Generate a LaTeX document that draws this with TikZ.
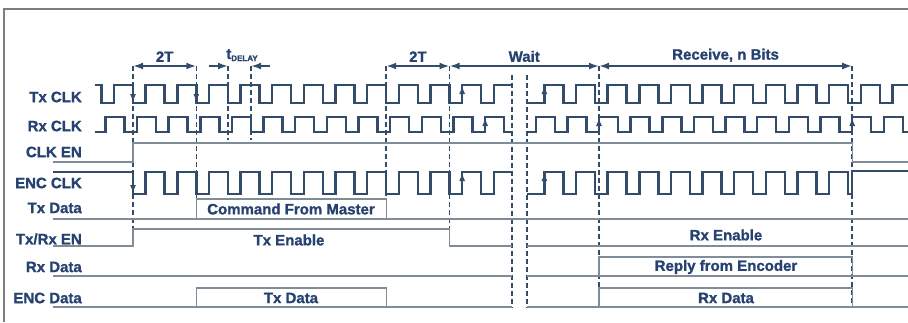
\documentclass[tikz,border=0pt]{standalone}
\usepackage{fontspec}
\setmainfont{Liberation Sans}
\newfontfamily\heavy{Liberation Sans Bold}[FakeBold=1.2]
\usetikzlibrary{arrows.meta}

\definecolor{wavecol}{RGB}{50,76,106}
\definecolor{txtcol}{RGB}{38,66,112}
\definecolor{basecol}{RGB}{128,140,152}
\definecolor{framecol}{RGB}{125,125,125}

\tikzset{
  wave/.style={wavecol, line width=2.4pt, line join=miter},
  base/.style={basecol, line width=1.4pt},
  guide/.style={wavecol, line width=1.6pt, dash pattern=on 5pt off 3pt},
  sig/.style={font=\heavy\fontsize{15}{15}\selectfont, txtcol, anchor=east, inner sep=0pt},
  lbl/.style={font=\heavy\fontsize{15}{15}\selectfont, txtcol, inner sep=0pt},
  dim/.style={wavecol, line width=2.2pt, {Latex[length=10pt,width=7pt]}-{Latex[length=10pt,width=7pt]}},
  tip/.style={wavecol, line width=1.2pt, -{Latex[length=8pt,width=6pt]}},
}

% clock run: high y, low y, pulse width, first rise, period, last index
\newcommand\pulses[6]{\foreach \k in {0,...,#6} {
  -- ({#4+\k*#5},#2) -- ({#4+\k*#5},#1) -- ({#4+\k*#5+#3},#1) -- ({#4+\k*#5+#3},#2) }}

\begin{document}
\begin{tikzpicture}[x=1pt,y=-1pt]
\useasboundingbox (0,0) rectangle (908,322);
\draw[framecol, line width=1.6pt] (4,322) -- (4,9) -- (908,9);

% signal names
\node[sig] (txclk)  at (82,97)  {Tx CLK};
\node[sig] (rxclk)  at (82,126) {Rx CLK};
\node[sig] (clken)  at (82,152) {CLK EN};
\node[sig] (encclk) at (82,183) {ENC CLK};
\node[sig] (txdata) at (82,208) {Tx Data};
\node[sig] (txrxen) at (82,239) {Tx/Rx EN};
\node[sig] (rxdata) at (82,267) {Rx Data};
\node[sig] (encdat) at (82,298) {ENC Data};

% time marks
\coordinate (m1) at (133,66);
\coordinate (m2) at (196.3,66);
\coordinate (m3) at (228,66);
\coordinate (m4) at (251,66);
\coordinate (m5) at (386.2,66);
\coordinate (m6) at (449.5,66);
\coordinate (m7) at (599,66);
\coordinate (m8) at (852.2,66);
\coordinate (b1) at (512,75);
\coordinate (b2) at (527,75);

\draw[guide] (m1) -- ++(0,181);
\draw[guide] (m2) -- ++(0,152);
\draw[guide] (m3) -- ++(0,74);
\draw[guide] (m4) -- ++(0,74);
\draw[guide] (m5) -- ++(0,130);
\draw[guide] (m6) -- ++(0,181);
\draw[guide] (m7) -- ++(0,242);
\draw[guide] (m8) -- ++(0,242);
\draw[guide] (b1) -- ++(0,233);
\draw[guide] (b2) -- ++(0,233);

% dimension arrows
\draw[dim] (m1) -- node[lbl, above=3pt] (d2t) {2T} (m2);
\draw[dim] (m5) -- node[lbl, above=3pt] (d2tb) {2T} (m6);
\draw[dim] (m6) -- node[lbl, above=3pt] (dwait) {Wait} (m7);
\draw[dim] (m7) -- node[lbl, above=3pt] (drecv) {Receive, n Bits} (m8);
\draw[wavecol, line width=2.2pt, -{Latex[length=10pt,width=7pt]}] ([xshift=-19pt]m3) -- (m3);
\draw[wavecol, line width=2.2pt, -{Latex[length=10pt,width=7pt]}] ([xshift=19pt]m4) -- (m4);
\node[lbl, anchor=base] (tdel) at (242,59) {t\raisebox{-2pt}{\fontsize{8}{8}\selectfont DELAY}};

% Tx CLK
\draw[wave] (95,85) -- (101.35,85) -- (101.35,103) \pulses{85}{103}{19}{114}{31.65}{11}
  -- (493.8,103) -- (493.8,85) -- (512,85);
\draw[wave] (527,103) \pulses{85}{103}{19}{544.35}{31.65}{10}
  -- (892.5,103) -- (892.5,85) -- (908,85);
% Rx CLK
\draw[wave] (95,132) \pulses{117}{132}{19}{105.35}{31.65}{12} -- (512,132);
\draw[wave] (527,132) \pulses{117}{132}{19}{535.7}{31.65}{10}
  -- (883.85,132) -- (883.85,117) -- (902.85,117) -- (902.85,132) -- (908,132);
% CLK EN
\draw[base] (53,162) -- (133,162) -- (133,143) -- (852.2,143) -- (852.2,162) -- (908,162);
% ENC CLK
\draw[wave] (53,172) -- (133,172) -- (133,194) \pulses{172}{194}{19}{145.65}{31.65}{10}
  -- (493.8,194) -- (493.8,172) -- (512,172);
\draw[wave] (527,194) \pulses{172}{194}{19}{544.35}{31.65}{9}
  -- (852.2,194) -- (852.2,171) -- (908,171);

% arrows on edges
\draw[tip] (133,85) -- (133,102);
\draw[tip] (196.3,85) -- (196.3,102);
\draw[tip] (133,172) -- (133,193);
\draw[tip] (462.15,103) -- (462.15,86);
\draw[tip] (544.35,103) -- (544.35,86);
\draw[tip] (485.15,132) -- (485.15,118);
\draw[tip] (599,132) -- (599,118);
\draw[tip] (852.2,132) -- (852.2,118);
\draw[tip] (462.15,194) -- (462.15,173);
\draw[tip] (544.35,194) -- (544.35,173);

% Tx Data
\draw[base] (53,219) -- (908,219);
\draw[base] (196.3,219) -- (196.3,199) -- (386.2,199) -- (386.2,219);
\node[lbl] (cmd) at (291,209) {Command From Master};
% Tx/Rx EN
\draw[base] (53,246) -- (133,246) -- (133,229) -- (449.5,229) -- (449.5,246) -- (512,246);
\draw[base] (527,246) -- (908,246);
\node[lbl] (txen) at (289,240) {Tx Enable};
\node[lbl] (rxen) at (726,235) {Rx Enable};
% Rx Data
\draw[base] (53,276) -- (512,276);
\draw[base] (527,276) -- (908,276);
\draw[base] (599,276) -- (599,257) -- (852.2,257) -- (852.2,276);
\node[lbl] (reply) at (726,267) {Reply from Encoder};
% ENC Data
\draw[base] (53,307) -- (512,307);
\draw[base] (527,307) -- (908,307);
\draw[base] (196.3,307) -- (196.3,288) -- (386.2,288) -- (386.2,307);
\draw[base] (599,307) -- (599,288) -- (852.2,288) -- (852.2,307);
\node[lbl] (encd) at (291,298) {Tx Data};
\node[lbl] (rxd) at (726,298) {Rx Data};
\end{tikzpicture}
\end{document}
